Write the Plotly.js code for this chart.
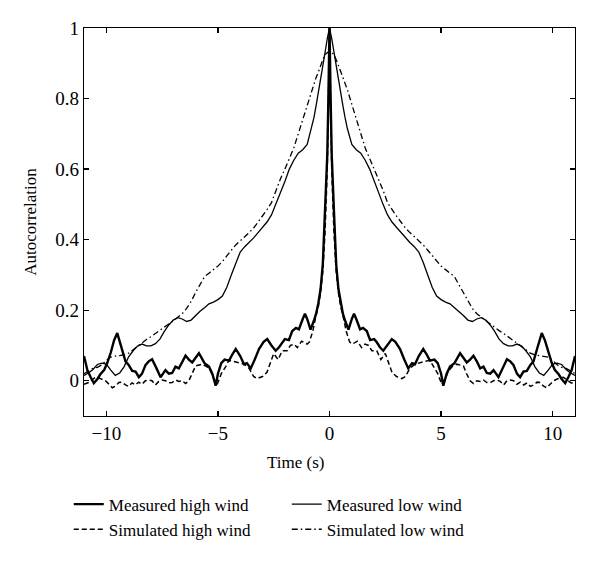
<!DOCTYPE html>
<html>
<head>
<meta charset="utf-8">
<script src="https://cdn.plot.ly/plotly-3.0.1.min.js"></script>
<style>html,body{margin:0;padding:0;background:#fff;}#chart{width:600px;height:563px;}</style>
</head>
<body>
<div id="chart"></div>
<script>
// Autocorrelation is symmetric in lag; values read for lags >= 0, mirrored for negative lags.
const seriesNames = ["Measured high wind", "Measured low wind", "Simulated high wind", "Simulated low wind"];

const lagMeasuredHigh = [0,0.05,0.1,0.2,0.3,0.4,0.5,0.6,0.7,0.85,1.0,1.1,1.2,1.37,1.5,1.67,1.82,2.0,2.12,2.26,2.41,2.6,2.79,2.95,3.16,3.35,3.53,3.7,3.83,4.0,4.2,4.35,4.5,4.7,4.85,5.0,5.1,5.25,5.4,5.6,5.85,6.0,6.15,6.3,6.45,6.6,6.75,6.9,7.05,7.2,7.35,7.57,7.75,7.95,8.1,8.24,8.4,8.54,8.69,8.84,9.0,9.14,9.3,9.51,9.65,9.8,9.96,10.1,10.26,10.4,10.56,10.7,10.85,11.0];
const valMeasuredHigh = [1.0,0.80,0.64,0.48,0.33,0.26,0.22,0.19,0.17,0.145,0.175,0.19,0.175,0.146,0.15,0.141,0.115,0.118,0.109,0.095,0.085,0.10,0.118,0.11,0.09,0.06,0.035,0.05,0.047,0.07,0.09,0.075,0.057,0.06,0.05,0.02,-0.014,0.02,0.04,0.05,0.078,0.065,0.052,0.06,0.071,0.055,0.035,0.04,0.022,0.02,0.03,0.01,0.035,0.061,0.055,0.045,0.02,0.01,0.026,0.028,0.045,0.055,0.09,0.135,0.115,0.08,0.05,0.03,0.019,0.005,-0.007,0.01,0.03,0.07];

const lagMeasuredLow = [0,0.1,0.2,0.3,0.4,0.5,0.6,0.7,0.8,1.0,1.2,1.4,1.6,1.8,2.0,2.2,2.4,2.6,2.8,3.0,3.2,3.4,3.6,3.8,4.0,4.2,4.4,4.6,4.8,5.0,5.2,5.4,5.6,5.8,6.0,6.2,6.4,6.6,6.8,7.0,7.2,7.4,7.6,7.8,8.0,8.2,8.4,8.6,8.8,9.0,9.2,9.4,9.6,9.8,10.0,10.2,10.4,10.6,10.8,11.0];
const valMeasuredLow = [1.0,0.97,0.93,0.89,0.85,0.815,0.78,0.745,0.715,0.67,0.655,0.645,0.625,0.60,0.565,0.53,0.50,0.47,0.45,0.435,0.42,0.405,0.392,0.38,0.365,0.335,0.30,0.265,0.24,0.23,0.223,0.218,0.207,0.197,0.185,0.172,0.168,0.175,0.179,0.172,0.158,0.14,0.118,0.105,0.099,0.099,0.104,0.098,0.085,0.068,0.04,0.022,0.015,0.03,0.047,0.05,0.046,0.032,0.022,0.015];

const lagSimulatedHigh = [0,0.05,0.1,0.2,0.3,0.4,0.5,0.62,0.75,0.9,1.0,1.14,1.25,1.44,1.59,1.75,1.9,2.12,2.3,2.5,2.65,2.8,3.0,3.24,3.4,3.6,3.83,4.06,4.3,4.5,4.65,4.85,5.03,5.15,5.33,5.5,5.7,6.0,6.15,6.3,6.45,6.6,6.75,6.9,7.05,7.2,7.35,7.5,7.65,7.8,7.95,8.1,8.25,8.4,8.55,8.7,8.85,9.0,9.14,9.3,9.44,9.58,9.73,9.88,10.04,10.2,10.35,10.48,10.65,10.8,11.0];
const valSimulatedHigh = [1.0,0.78,0.6,0.42,0.31,0.25,0.21,0.18,0.14,0.11,0.104,0.108,0.112,0.094,0.104,0.10,0.085,0.085,0.06,0.077,0.05,0.024,0.012,0.006,0.012,0.035,0.047,0.05,0.055,0.058,0.04,0.02,-0.01,0.0,0.028,0.04,0.047,0.042,0.019,0.0,-0.008,0.0,-0.002,0.002,-0.005,-0.006,0.0,0.002,-0.002,-0.012,0.0,0.002,0.0,-0.01,-0.004,-0.012,-0.006,-0.016,-0.012,-0.004,-0.005,-0.015,-0.02,-0.01,0.0,0.005,0.008,0.01,0.002,-0.005,-0.01];

const lagSimulatedLow = [0,0.1,0.2,0.3,0.4,0.5,0.6,0.8,1.0,1.2,1.4,1.6,1.8,2.0,2.2,2.4,2.6,2.8,3.0,3.2,3.4,3.6,3.8,4.0,4.2,4.4,4.6,4.8,5.0,5.2,5.4,5.6,5.8,6.0,6.2,6.4,6.6,6.8,7.0,7.2,7.4,7.6,7.8,8.0,8.2,8.4,8.6,8.8,9.0,9.2,9.4,9.6,9.8,10.0,10.2,10.4,10.6,10.8,11.0];
const valSimulatedLow = [0.935,0.93,0.925,0.91,0.895,0.875,0.86,0.825,0.785,0.74,0.70,0.66,0.63,0.60,0.572,0.54,0.505,0.485,0.467,0.45,0.433,0.42,0.408,0.398,0.385,0.37,0.355,0.338,0.325,0.315,0.305,0.295,0.272,0.25,0.225,0.205,0.19,0.18,0.17,0.16,0.15,0.142,0.134,0.125,0.117,0.106,0.097,0.088,0.078,0.073,0.071,0.07,0.067,0.058,0.045,0.038,0.035,0.028,0.02];

const xTickVals = [-10, -5, 0, 5, 10];
const yTickVals = [0, 0.2, 0.4, 0.6, 0.8, 1];
const yTickText = ["0", "0.2", "0.4", "0.6", "0.8", "1"];

function mirror(lag, val) {
  const x = [], y = [];
  for (let i = lag.length - 1; i > 0; i--) { x.push(-lag[i]); y.push(val[i]); }
  for (let i = 0; i < lag.length; i++) { x.push(lag[i]); y.push(val[i]); }
  return {x, y};
}

const mh = mirror(lagMeasuredHigh, valMeasuredHigh);
const ml = mirror(lagMeasuredLow, valMeasuredLow);
const sh = mirror(lagSimulatedHigh, valSimulatedHigh);
const sl = mirror(lagSimulatedLow, valSimulatedLow);

const FONT = "Liberation Serif, Times New Roman, serif";

const traces = [
  {x: mh.x, y: mh.y, name: seriesNames[0], mode: "lines", line: {color: "#000", width: 2.4}},
  {x: ml.x, y: ml.y, name: seriesNames[1], mode: "lines", line: {color: "#000", width: 1.3}},
  {x: sh.x, y: sh.y, name: seriesNames[2], mode: "lines", line: {color: "#000", width: 1.5, dash: "5px,3px"}},
  {x: sl.x, y: sl.y, name: seriesNames[3], mode: "lines", line: {color: "#000", width: 1.3, dash: "6px,3px,1.5px,3px"}}
];

const axisCommon = {
  showgrid: false, zeroline: false, showline: true, linecolor: "#000", linewidth: 1.3,
  mirror: "ticks", ticks: "inside", ticklen: 5, tickwidth: 1.2, tickcolor: "#000",
  tickfont: {family: FONT, size: 19, color: "#000"}
};

const layout = {
  width: 600, height: 563,
  margin: {l: 84, r: 25, t: 28, b: 147},
  paper_bgcolor: "#fff", plot_bgcolor: "#fff",
  font: {family: FONT, size: 17, color: "#000"},
  showlegend: true,
  xaxis: Object.assign({}, axisCommon, {range: [-11, 11], tickvals: xTickVals, ticklabelstandoff: 0}),
  yaxis: Object.assign({}, axisCommon, {range: [-0.1, 1], tickvals: yTickVals, ticktext: yTickText,
    title: {text: "Autocorrelation", font: {family: FONT, size: 17, color: "#000"}, standoff: 14}}),
  annotations: [
    {text: "Time (s)", xref: "paper", yref: "paper", x: 0.43, y: -0.12, xanchor: "center", yanchor: "middle",
     showarrow: false, font: {family: FONT, size: 17, color: "#000"}}
  ],
  legend: {
    orientation: "h", x: -0.031, xanchor: "left", y: -0.182, yanchor: "top",
    entrywidth: 173, entrywidthmode: "pixels",
    font: {family: FONT, size: 17, color: "#000"}, bgcolor: "rgba(0,0,0,0)", borderwidth: 0
  }
};

Plotly.newPlot("chart", traces, layout, {staticPlot: true, displayModeBar: false});
</script>
</body>
</html>
